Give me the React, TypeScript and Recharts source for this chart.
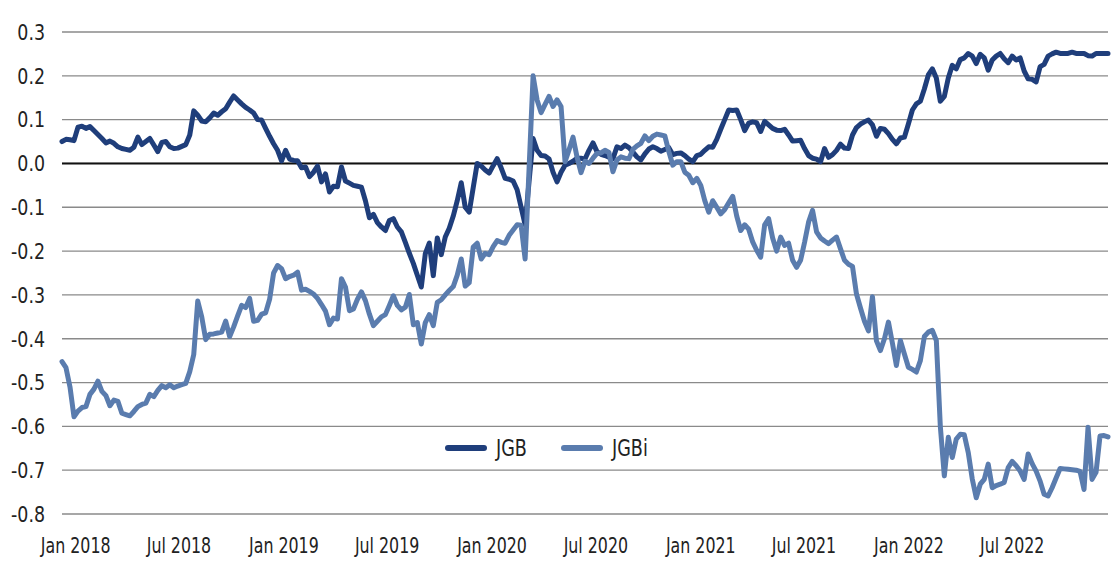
import { LineChart, Line, XAxis, YAxis, CartesianGrid, ReferenceLine } from "recharts";

// weekly observations, first one on Fri 8 Dec 2017
const START = Date.UTC(2017, 11, 8);
const WEEK = 7 * 24 * 3600 * 1000;

const jgb = [
  0.050, 0.055, 0.054, 0.052, 0.083, 0.085, 0.080, 0.084, 0.075, 0.066,
  0.057, 0.047, 0.051, 0.046, 0.038, 0.034, 0.032, 0.030, 0.037, 0.060,
  0.043, 0.050, 0.057, 0.042, 0.027, 0.048, 0.050, 0.038, 0.034, 0.035,
  0.039, 0.043, 0.065, 0.120, 0.110, 0.097, 0.095, 0.104, 0.115, 0.110,
  0.118, 0.125, 0.140, 0.154, 0.145, 0.136, 0.128, 0.122, 0.115, 0.100,
  0.099, 0.080, 0.062, 0.045, 0.030, 0.006, 0.030, 0.010, 0.007, 0.006,
  -0.010, -0.008, -0.030, -0.020, -0.006, -0.042, -0.024, -0.065, -0.052, -0.053,
  -0.008, -0.040, -0.045, -0.050, -0.052, -0.054, -0.085, -0.124, -0.116, -0.135,
  -0.145, -0.153, -0.130, -0.126, -0.145, -0.156, -0.180, -0.205, -0.228, -0.255,
  -0.282, -0.206, -0.182, -0.256, -0.170, -0.208, -0.168, -0.148, -0.120, -0.085,
  -0.044, -0.100, -0.111, -0.055, 0.000, -0.006, -0.015, -0.022, -0.005, 0.011,
  -0.010, -0.034, -0.036, -0.040, -0.060, -0.100, -0.140, -0.040, 0.057, 0.030,
  0.018, 0.017, 0.010, -0.020, -0.042, -0.020, -0.004, 0.000, 0.005, 0.012,
  0.012, 0.010, 0.030, 0.047, 0.027, 0.021, 0.018, 0.014, 0.011, 0.038,
  0.034, 0.042, 0.036, 0.026, 0.015, 0.008, 0.022, 0.033, 0.038, 0.034,
  0.028, 0.032, 0.036, 0.020, 0.023, 0.024, 0.018, 0.010, 0.004, 0.018,
  0.021, 0.030, 0.038, 0.037, 0.055, 0.078, 0.100, 0.122, 0.121, 0.122,
  0.100, 0.075, 0.092, 0.095, 0.093, 0.073, 0.096, 0.088, 0.080, 0.076,
  0.075, 0.078, 0.065, 0.051, 0.052, 0.053, 0.034, 0.018, 0.012, 0.010,
  0.004, 0.034, 0.014, 0.020, 0.030, 0.044, 0.035, 0.034, 0.065, 0.082,
  0.090, 0.095, 0.099, 0.088, 0.062, 0.080, 0.078, 0.068, 0.055, 0.045,
  0.058, 0.060, 0.090, 0.122, 0.136, 0.142, 0.170, 0.202, 0.216, 0.195,
  0.142, 0.153, 0.195, 0.224, 0.216, 0.237, 0.241, 0.251, 0.245, 0.228,
  0.249, 0.241, 0.213, 0.236, 0.245, 0.251, 0.239, 0.230, 0.245, 0.236,
  0.241, 0.211, 0.193, 0.192, 0.186, 0.221, 0.226, 0.245, 0.250, 0.254,
  0.251, 0.251, 0.251, 0.254, 0.251, 0.251, 0.251, 0.246, 0.245, 0.251,
  0.251, 0.251, 0.251,
];

const jgbi = [
  -0.452, -0.466, -0.510, -0.578, -0.565, -0.557, -0.555, -0.527, -0.515, -0.497,
  -0.520, -0.530, -0.553, -0.540, -0.543, -0.570, -0.573, -0.576, -0.566, -0.555,
  -0.550, -0.547, -0.527, -0.532, -0.518, -0.507, -0.512, -0.505, -0.512, -0.508,
  -0.505, -0.502, -0.475, -0.436, -0.314, -0.350, -0.402, -0.390, -0.389, -0.387,
  -0.385, -0.360, -0.395, -0.373, -0.348, -0.324, -0.329, -0.308, -0.360, -0.358,
  -0.344, -0.341, -0.310, -0.250, -0.233, -0.240, -0.263, -0.258, -0.255, -0.248,
  -0.289, -0.287, -0.292, -0.298, -0.308, -0.322, -0.337, -0.368, -0.353, -0.355,
  -0.263, -0.282, -0.336, -0.332, -0.310, -0.293, -0.313, -0.344, -0.370, -0.360,
  -0.350, -0.345, -0.324, -0.302, -0.324, -0.334, -0.328, -0.299, -0.368, -0.363,
  -0.412, -0.363, -0.345, -0.370, -0.317, -0.311, -0.300, -0.290, -0.281, -0.255,
  -0.218, -0.280, -0.272, -0.191, -0.182, -0.218, -0.205, -0.208, -0.190, -0.176,
  -0.180, -0.182, -0.164, -0.152, -0.140, -0.141, -0.218, -0.010, 0.200, 0.145,
  0.116, 0.135, 0.153, 0.130, 0.145, 0.130, 0.004, 0.031, 0.060, 0.015,
  -0.021, 0.005, 0.000, 0.012, 0.023, 0.024, 0.030, 0.025, -0.019, 0.008,
  0.015, 0.012, 0.011, 0.032, 0.040, 0.046, 0.063, 0.052, 0.062, 0.067,
  0.065, 0.063, 0.027, -0.004, 0.004, 0.004, -0.020, -0.027, -0.044, -0.034,
  -0.050, -0.085, -0.111, -0.085, -0.100, -0.115, -0.105, -0.090, -0.075, -0.120,
  -0.153, -0.140, -0.150, -0.179, -0.198, -0.214, -0.140, -0.126, -0.170, -0.200,
  -0.168, -0.187, -0.182, -0.221, -0.237, -0.221, -0.180, -0.134, -0.107, -0.156,
  -0.170, -0.177, -0.183, -0.175, -0.168, -0.195, -0.221, -0.230, -0.235, -0.298,
  -0.330, -0.360, -0.382, -0.304, -0.405, -0.427, -0.400, -0.362, -0.410, -0.461,
  -0.404, -0.435, -0.465, -0.470, -0.476, -0.450, -0.395, -0.385, -0.381, -0.404,
  -0.600, -0.713, -0.625, -0.671, -0.629, -0.618, -0.619, -0.660, -0.720, -0.763,
  -0.732, -0.721, -0.686, -0.740, -0.735, -0.732, -0.728, -0.694, -0.680, -0.690,
  -0.702, -0.721, -0.663, -0.685, -0.702, -0.725, -0.755, -0.759, -0.740, -0.718,
  -0.696, -0.697, -0.698, -0.699, -0.700, -0.703, -0.744, -0.602, -0.721, -0.705,
  -0.622, -0.621, -0.624,
];

const tickMonths: [number, number][] = [
  [2018, 0], [2018, 6], [2019, 0], [2019, 6], [2020, 0],
  [2020, 6], [2021, 0], [2021, 6], [2022, 0], [2022, 6],
];
const tickLabels = [
  "Jan 2018", "Jul 2018", "Jan 2019", "Jul 2019", "Jan 2020",
  "Jul 2020", "Jan 2021", "Jul 2021", "Jan 2022", "Jul 2022",
];
const yTicks = [-0.8, -0.7, -0.6, -0.5, -0.4, -0.3, -0.2, -0.1, 0, 0.1, 0.2, 0.3];

const JGB_COLOR = "#1f3e7b";
const JGBI_COLOR = "#5a7cae";
const FONT = "'DejaVu Sans Condensed', 'Liberation Sans Narrow', sans-serif";

const data = jgb.map((v, i) => ({ t: START + i * WEEK, JGB: v, JGBi: jgbi[i] }));
const xTicks = tickMonths.map(([y, m]) => Date.UTC(y, m, 1));

const formatX = (t: number) => tickLabels[xTicks.indexOf(t)] ?? "";

// the source uses a narrow condensed face, so squeeze the glyphs a bit
const XTick = ({ x, y, payload }: any) => (
  <g transform={`translate(${x},${y}) scale(0.8,1)`}>
    <text textAnchor="middle" dy="0.71em" fill="#222" fontSize={22} fontFamily={FONT}>
      {formatX(payload.value)}
    </text>
  </g>
);

const YTick = ({ x, y, payload }: any) => (
  <g transform={`translate(${x},${y}) scale(0.88,1)`}>
    <text textAnchor="end" dy="0.355em" fill="#222" fontSize={22} fontFamily={FONT}>
      {Number(payload.value).toFixed(1)}
    </text>
  </g>
);

const LegendItem = ({ color, label }: { color: string; label: string }) => (
  <div style={{ display: "flex", alignItems: "center", marginRight: 29 }}>
    <div style={{ width: 42, height: 6, borderRadius: 3, background: color, marginRight: 9 }} />
    <span style={{ display: "inline-block", transform: "scaleX(0.85)", transformOrigin: "left center" }}>{label}</span>
  </div>
);

export default function App() {
  return (
    <div style={{ position: "relative", width: 1104, height: 562 }}>
      <LineChart width={1104} height={562} data={data} margin={{ top: 24, right: 4, left: 0, bottom: 0 }}>
        <CartesianGrid vertical={false} stroke="#8a8a8a" strokeWidth={1.3} />
        <XAxis
          dataKey="t"
          type="number"
          domain={[data[0].t, data[data.length - 1].t]}
          ticks={xTicks}
          interval={0}
          tickFormatter={formatX}
          axisLine={false}
          tickLine={false}
          tickSize={0}
          tickMargin={23}
          height={56}
          tick={<XTick />}
        />
        <YAxis
          type="number"
          domain={[-0.8, 0.3]}
          ticks={yTicks}
          interval={0}
          axisLine={false}
          tickLine={false}
          tickSize={0}
          tickMargin={17}
          width={54}
          tick={<YTick />}
        />
        <ReferenceLine y={0} stroke="#111" strokeWidth={2} />
        <Line
          dataKey="JGB"
          stroke={JGB_COLOR}
          strokeWidth={5}
          strokeLinejoin="round"
          strokeLinecap="round"
          dot={false}
          isAnimationActive={false}
        />
        <Line
          dataKey="JGBi"
          stroke={JGBI_COLOR}
          strokeWidth={5}
          strokeLinejoin="round"
          strokeLinecap="round"
          dot={false}
          isAnimationActive={false}
        />
      </LineChart>
      <div
        style={{
          position: "absolute",
          left: 437,
          top: 427,
          height: 26,
          display: "flex",
          alignItems: "center",
          fontFamily: FONT,
          fontSize: 23,
          color: "#222",
        }}
      >
        <LegendItem color={JGB_COLOR} label="JGB" />
        <LegendItem color={JGBI_COLOR} label="JGBi" />
      </div>
    </div>
  );
}
